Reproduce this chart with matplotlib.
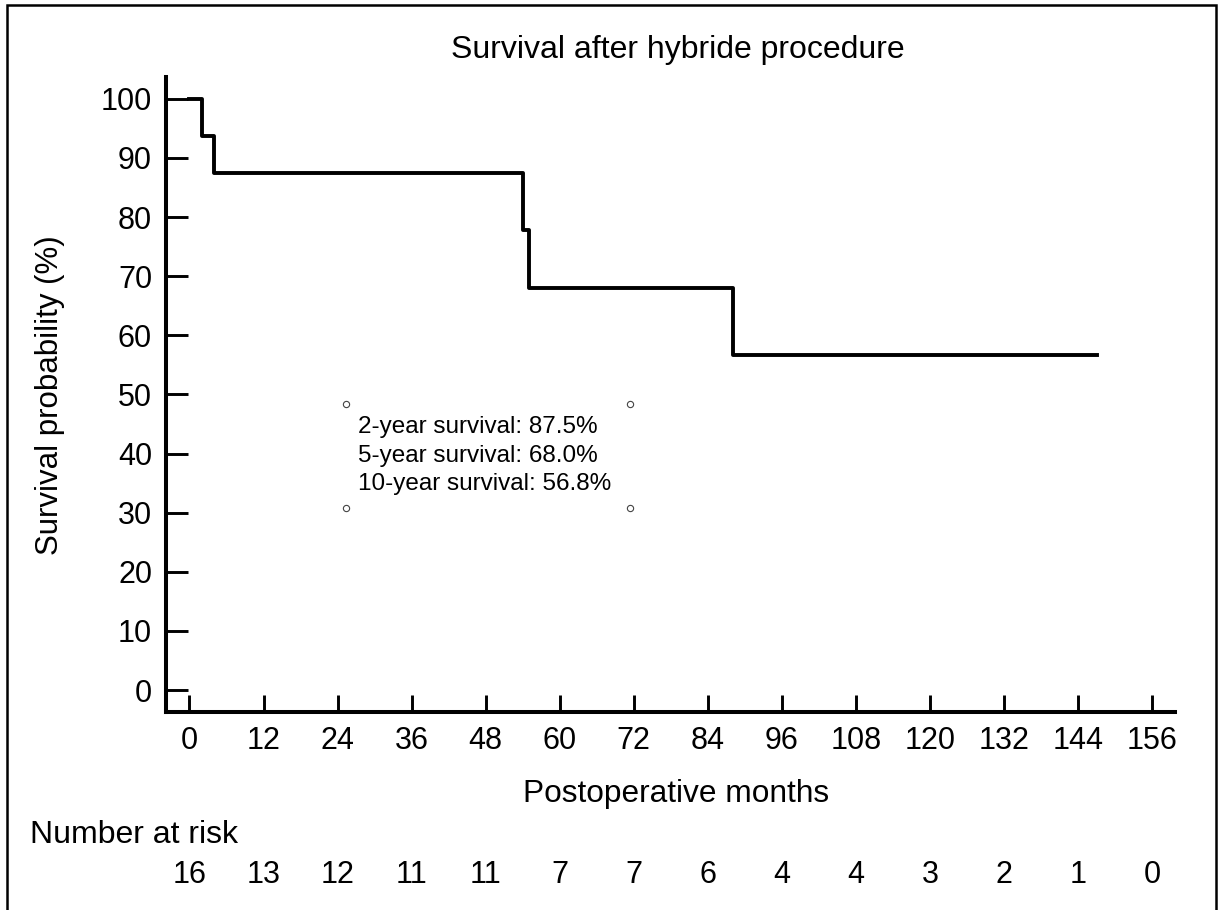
import matplotlib
matplotlib.use("Agg")
import matplotlib.pyplot as plt
from matplotlib.patches import Rectangle
from matplotlib.transforms import blended_transform_factory

# Kaplan-Meier steps
months = [0, 2, 4, 54, 55, 88, 147]
survival = [100, 93.75, 87.5, 77.78, 68.06, 56.72, 56.72]

x_ticks = [0, 12, 24, 36, 48, 60, 72, 84, 96, 108, 120, 132, 144, 156]
y_ticks = [0, 10, 20, 30, 40, 50, 60, 70, 80, 90, 100]
at_risk = [16, 13, 12, 11, 11, 7, 7, 6, 4, 4, 3, 2, 1, 0]

summary_years = [2, 5, 10]
summary_pct = [87.5, 68.0, 56.8]

W, H = 1223, 910


def fx(px):
    return px / W


def fy(py):
    # pixel row from the top -> figure fraction
    return 1 - py / H


def main():
    plt.rcParams['font.family'] = ['Liberation Sans', 'DejaVu Sans']
    fig = plt.figure(figsize=(W / 100, H / 100), dpi=100)

    # outer frame
    fig.patches.append(Rectangle((fx(7), fy(912)), fx(1216 - 7), fy(5) - fy(912),
                                 transform=fig.transFigure, fill=False,
                                 edgecolor='black', linewidth=1.8))

    ax = fig.add_axes([fx(166), fy(712), fx(1175 - 166), fy(77) - fy(712)])
    ax.step(months, survival, where='post', color='black', linewidth=2.8)

    ax.set_xlim(-3.8, 159.7)
    ax.set_ylim(-3.72, 103.7)
    ax.set_xticks(x_ticks)
    ax.set_yticks(y_ticks)
    for side in ['top', 'right']:
        ax.spines[side].set_visible(False)
    for side in ['left', 'bottom']:
        ax.spines[side].set_linewidth(2.9)
    ax.tick_params(axis='y', direction='in', length=16, width=2.1, labelsize=22, pad=10)
    ax.tick_params(axis='x', direction='in', length=12, width=2.1, labelsize=22, pad=10)

    # selection handles around the summary box
    hx = [25.4, 71.4, 25.4, 71.4]
    hy = [48.4, 48.4, 30.8, 30.8]
    ax.plot(hx, hy, linestyle='none', marker='o', markersize=4.5,
            markerfacecolor='white', markeredgecolor='#444444', markeredgewidth=0.8,
            clip_on=False)

    baselines = [433, 462, 490]
    for yr, pct, base in zip(summary_years, summary_pct, baselines):
        fig.text(fx(358), fy(base), f"{yr}-year survival: {pct:.1f}%",
                 fontsize=17.5, va='baseline', ha='left')

    fig.text(fx(678), fy(58), "Survival after hybride procedure",
             fontsize=23, ha='center', va='baseline')
    fig.text(fx(50), fy(395), "Survival probability (%)", fontsize=22.5,
             rotation=90, ha='center', va='center')
    fig.text(fx(676), fy(802), "Postoperative months", fontsize=22.8,
             ha='center', va='baseline')

    fig.text(fx(30), fy(843), "Number at risk", fontsize=23, ha='left', va='baseline')
    trans = blended_transform_factory(ax.transData, fig.transFigure)
    for x, n in zip(x_ticks, at_risk):
        ax.text(x, fy(883), str(n), transform=trans, fontsize=22,
                ha='center', va='baseline', clip_on=False)

    fig.savefig('out.png', dpi=100)


if __name__ == "__main__":
    main()
